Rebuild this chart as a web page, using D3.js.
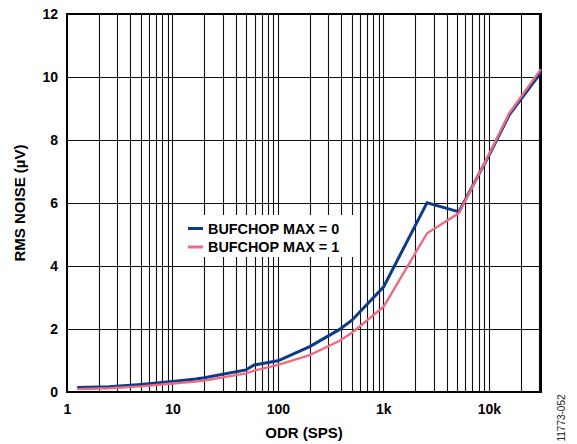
<!DOCTYPE html>
<html><head><meta charset="utf-8">
<script src="https://cdn.jsdelivr.net/npm/d3@7"></script>
<style>
body{margin:0;background:#fff;}
svg text{font-family:Arial,"Liberation Sans",Helvetica,sans-serif;}
</style></head>
<body>
<svg id="chart" width="577" height="444"></svg>
<script>
const odr = [1.25, 2.5, 5, 10, 16.63, 20.01, 49.68, 59.52, 100.2, 200.3, 381, 503.8, 1007, 2597, 5208, 10417, 15625, 31250];
const bufchop0 = [0.14, 0.17, 0.24, 0.33, 0.41, 0.45, 0.70, 0.86, 0.99, 1.44, 1.98, 2.28, 3.34, 6.01, 5.72, 7.62, 8.80, 10.15];
const bufchop1 = [0.09, 0.12, 0.18, 0.27, 0.33, 0.36, 0.59, 0.68, 0.86, 1.17, 1.62, 1.88, 2.71, 5.04, 5.68, 7.65, 8.85, 10.25];
const seriesNames = ["BUFCHOP MAX = 0", "BUFCHOP MAX = 1"];
const xTickValues = [1, 10, 100, 1000, 10000];
const xTickLabels = ["1", "10", "100", "1k", "10k"];
const yTickValues = [0, 2, 4, 6, 8, 10, 12];

const svg = d3.select("#chart");
const L = 67, R = 541, T = 14, B = 392;
const x = d3.scaleLog().domain([1, 31250]).range([L, R]);
const y = d3.scaleLinear().domain([0, 12]).range([B, T]);
const FONT = "Arial,'Liberation Sans',sans-serif";

// grid verticals: every 1..9 per decade
const minor = [];
for (let d = 1; d <= 10000; d *= 10) for (let k = 1; k <= 9; k++) { const v = d * k; if (v > 1 && v < 31250) minor.push(v); }
const g = svg.append("g");
g.selectAll("line.v").data(minor).join("line")
  .attr("x1", d => Math.round(x(d)) + 0.5).attr("x2", d => Math.round(x(d)) + 0.5)
  .attr("y1", T).attr("y2", B).attr("stroke", "#111").attr("stroke-width", 1.1);
g.selectAll("line.h").data(yTickValues.slice(1, -1)).join("line")
  .attr("x1", L).attr("x2", R)
  .attr("y1", d => Math.round(y(d)) + 0.5).attr("y2", d => Math.round(y(d)) + 0.5)
  .attr("stroke", "#111").attr("stroke-width", 1.1);

// legend background (masks grid)
svg.append("rect").attr("x", 184).attr("y", 215).attr("width", 170).attr("height", 42).attr("fill", "#fff");

// border
svg.append("rect").attr("x", L).attr("y", T).attr("width", R - L).attr("height", B - T)
  .attr("fill", "none").attr("stroke", "#000").attr("stroke-width", 2);

// axes tick labels via d3 axes
const xAxis = d3.axisBottom(x).tickValues(xTickValues).tickFormat((d, i) => xTickLabels[i]).tickSize(0).tickPadding(12);
const xa = svg.append("g").attr("transform", `translate(0,${B})`).call(xAxis);
xa.select(".domain").remove();
xa.selectAll("text").attr("font-size", 14).attr("font-weight", "bold").attr("fill", "#000").attr("font-family", FONT);

const yAxis = d3.axisLeft(y).tickValues(yTickValues).tickFormat(d3.format("d")).tickSize(0).tickPadding(9);
const ya = svg.append("g").attr("transform", `translate(${L},0)`).call(yAxis);
ya.select(".domain").remove();
ya.selectAll("text").attr("font-size", 14).attr("font-weight", "bold").attr("fill", "#000").attr("font-family", FONT);

// lines
const colors = ["#0d3a85", "#ee6a82"];
const widths = [3, 2.4];
const line = d3.line().x(d => x(d[0])).y(d => y(d[1]));
[bufchop0, bufchop1].forEach((s, i) => {
  svg.append("path").datum(odr.map((o, j) => [o, s[j]]))
    .attr("d", line).attr("fill", "none").attr("stroke", colors[i]).attr("stroke-width", widths[i])
    .attr("stroke-linejoin", "miter");
});

// legend
seriesNames.forEach((n, i) => {
  const ly = 228.5 + i * 18.5;
  svg.append("line").attr("x1", 188).attr("x2", 203).attr("y1", ly).attr("y2", ly)
    .attr("stroke", colors[i]).attr("stroke-width", 3);
  svg.append("text").attr("x", 208).attr("y", ly + 5.3).text(n)
    .attr("font-size", 14.4).attr("font-weight", "bold").attr("fill", "#000");
});

// axis titles
svg.append("text").attr("x", (L + R) / 2).attr("y", 438).attr("text-anchor", "middle")
  .attr("font-size", 15).attr("font-weight", "bold").text("ODR (SPS)");
svg.append("text").attr("transform", `translate(25,${(T + B) / 2}) rotate(-90)`).attr("text-anchor", "middle")
  .attr("font-size", 15).attr("font-weight", "bold").text("RMS NOISE (µV)");
svg.append("text").attr("transform", `translate(565,418) rotate(-90)`).attr("text-anchor", "middle")
  .attr("font-size", 10).attr("fill", "#222").text("11773-052");
</script>
</body></html>
